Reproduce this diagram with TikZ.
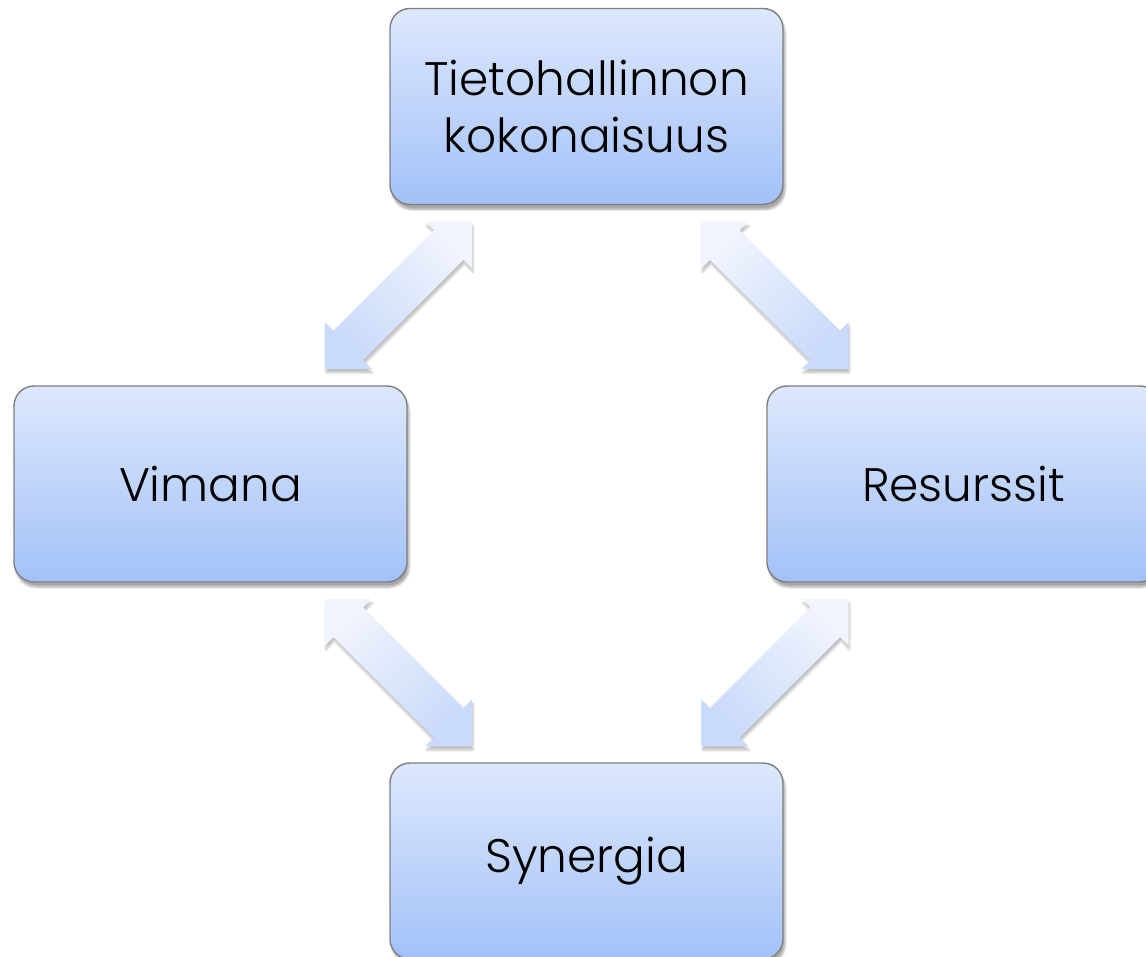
\documentclass[tikz,border=0pt]{standalone}
\usepackage{fontspec}
\setmainfont{Poppins}[UprightFont=* Light]
\usetikzlibrary{shadows.blur,calc}
\definecolor{boxtop}{HTML}{DDE8FD}
\definecolor{boxbot}{HTML}{A3C1F8}
\definecolor{boxline}{HTML}{7F7F7F}
\definecolor{arrtop}{HTML}{F0F4FD}
\definecolor{arrbot}{HTML}{C9DAFA}
\newcommand{\myDblArrowPath}{(104,0) -- (71,33) -- (71,21) -- (-71,21) -- (-71,33) -- (-104,0)
      -- (-71,-33) -- (-71,-21) -- (71,-21) -- (71,-33) -- cycle}
\tikzset{
  box/.style={rectangle, rounded corners=20pt, draw=boxline, line width=1.4pt,
    top color=boxtop, bottom color=boxbot, minimum width=393pt, minimum height=196pt,
    align=center, inner sep=0pt, font=\fontsize{47}{57}\selectfont,
    blur shadow={shadow xshift=2pt, shadow yshift=-5pt, shadow blur steps=6, shadow opacity=35}},
  arrfill/.style={draw=none, top color=arrtop, bottom color=arrbot,
    blur shadow={shadow xshift=1pt, shadow yshift=-4pt, shadow blur steps=5, shadow opacity=25}}
}
\begin{document}
\begin{tikzpicture}[x=1pt,y=-1pt]
\useasboundingbox (0,0) rectangle (1146,957);
\begin{scope}
\clip (0,0) rectangle (1146,957);
\node[box] (top) at (586.5,106.5) {Tietohallinnon\\kokonaisuus};
\node[box] (left) at (210.5,484) {Vimana};
\node[box] (right) at (963.5,484) {Resurssit};
\node[box] (bottom) at (586.5,861) {Synergia};
\coordinate (ul) at ($(top.south west)!0.5!(left.north east)$);
\coordinate (ur) at ($(top.south east)!0.5!(right.north west)$);
\coordinate (ll) at ($(left.south east)!0.5!(bottom.north west)$);
\coordinate (lr) at ($(right.south west)!0.5!(bottom.north east)$);
\begin{scope}[shift={(ul)}, x=1pt, y=1pt, rotate=45]
  \path[arrfill, shading angle=-45] \myDblArrowPath;
\end{scope}
\begin{scope}[shift={(ur)}, x=1pt, y=1pt, rotate=-45]
  \path[arrfill, shading angle=45] \myDblArrowPath;
\end{scope}
\begin{scope}[shift={(ll)}, x=1pt, y=1pt, rotate=-45]
  \path[arrfill, shading angle=45] \myDblArrowPath;
\end{scope}
\begin{scope}[shift={(lr)}, x=1pt, y=1pt, rotate=45]
  \path[arrfill, shading angle=-45] \myDblArrowPath;
\end{scope}
\end{scope}
\end{tikzpicture}
\end{document}
